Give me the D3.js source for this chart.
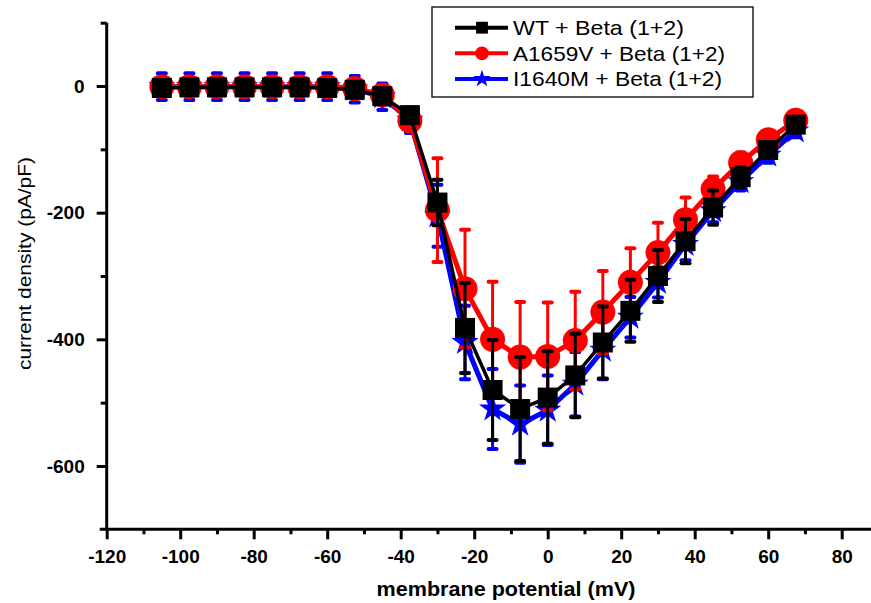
<!DOCTYPE html>
<html>
<head>
<meta charset="utf-8">
<script src="https://cdn.jsdelivr.net/npm/d3@7"></script>
<style>
  body { margin: 0; background: #fff; }
  svg text { font-family: "Liberation Sans", Arial, sans-serif; }
</style>
</head>
<body>
<div id="chart"></div>
<script>
// membrane potential (mV)
const voltage = [-105, -97.5, -90, -82.5, -75, -67.5, -60, -52.5, -45, -37.5, -30, -22.5,
  -15, -7.5, 0, 7.5, 15, 22.5, 30, 37.5, 45, 52.5, 60, 67.5];

const wtMean = [-3, -2, -2, -2, -2, -2, -3, -6, -16, -46, -184, -382,
  -480, -510, -492, -457, -405, -355, -300, -245, -192, -144, -101, -61];
const wtErr = [4, 4, 4, 4, 4, 4, 4, 4, 5, 8, 36, 71,
  79, 82, 73, 66, 57, 49, 41, 35, 27, 16, 10, 8];

const a1659vMean = [-1, -1, -1, -1, -1, -1, -1, -4, -14, -55, -196, -320,
  -400, -428, -427, -402, -357, -310, -263, -211, -163, -121, -85, -54];
const a1659vErr = [6, 6, 6, 6, 6, 6, 6, 6, 8, 12, 82, 93,
  91, 87, 85, 77, 65, 54, 47, 35, 20, 16, 10, 8];

const i1640mMean = [-1, -1, -1, -1, -1, -1, -1, -5, -17, -54, -205, -405,
  -510, -534, -512, -471, -417, -365, -310, -250, -197, -151, -109, -71];
const i1640mErr = [21, 21, 21, 21, 21, 21, 21, 21, 21, 20, 49, 58,
  63, 61, 55, 51, 46, 32, 24, 25, 18, 14, 12, 10];

const seriesNames = ['WT + Beta (1+2)', 'A1659V + Beta (1+2)', 'I1640M + Beta (1+2)'];

const xTicks = [-120, -100, -80, -60, -40, -20, 0, 20, 40, 60, 80];
const xMinorTicks = [-110, -90, -70, -50, -30, -10, 10, 30, 50, 70];
const yTicks = [0, -200, -400, -600];
const yMinorTicks = [100, -100, -300, -500];

const width = 871, height = 603;

const svg = d3.select('#chart').append('svg')
  .attr('width', width)
  .attr('height', height);

const x = d3.scaleLinear().domain([-120, 80]).range([106.7, 841.7]);
const y = d3.scaleLinear().domain([-700, 100]).range([529.3, 22.7]);

const fmt = d => String(d);

// axes
const xAxisG = svg.append('g').attr('transform', `translate(0,${y(-700)})`);
xAxisG.call(d3.axisBottom(x).tickValues(xTicks).tickSize(10).tickPadding(10).tickFormat(fmt));
xAxisG.append('g').call(d3.axisBottom(x).tickValues(xMinorTicks).tickSize(5).tickFormat(''))
  .select('.domain').remove();
xAxisG.selectAll('.domain').remove();

const yAxisG = svg.append('g').attr('transform', `translate(${x(-120)},0)`);
yAxisG.call(d3.axisLeft(y).tickValues(yTicks).tickSize(10).tickPadding(12).tickFormat(fmt));
yAxisG.append('g').call(d3.axisLeft(y).tickValues(yMinorTicks).tickSize(6).tickFormat(''))
  .select('.domain').remove();
yAxisG.selectAll('.domain').remove();

svg.selectAll('.tick line').attr('stroke', '#000').attr('stroke-width', 3);
svg.selectAll('.tick text')
  .attr('fill', '#000')
  .style('font-size', '19px')
  .style('font-weight', 'bold');

// axis lines
svg.append('line')
  .attr('x1', x(-120) - 7).attr('x2', width)
  .attr('y1', y(-700)).attr('y2', y(-700))
  .attr('stroke', '#000').attr('stroke-width', 3);
svg.append('line')
  .attr('x1', x(-120)).attr('x2', x(-120))
  .attr('y1', y(100)).attr('y2', y(-700) + 1)
  .attr('stroke', '#000').attr('stroke-width', 3);

// axis titles
svg.append('text')
  .attr('x', 506).attr('y', 596)
  .attr('text-anchor', 'middle')
  .attr('textLength', 259)
  .attr('lengthAdjust', 'spacingAndGlyphs')
  .style('font-size', '20px')
  .style('font-weight', 'bold')
  .text('membrane potential (mV)');

svg.append('text')
  .attr('transform', 'translate(31,263.5) rotate(-90)')
  .attr('text-anchor', 'middle')
  .attr('textLength', 213)
  .attr('lengthAdjust', 'spacingAndGlyphs')
  .style('font-size', '19px')
  .text('current density (pA/pF)');

// series
const series = [
  { name: seriesNames[2], mean: i1640mMean, err: i1640mErr, color: '#0000ff', lw: 5,
    symbol: d3.symbolStar, size: 230, legendSize: 95 },
  { name: seriesNames[1], mean: a1659vMean, err: a1659vErr, color: '#ff0000', lw: 5,
    symbol: d3.symbolCircle, size: 490, legendSize: 150 },
  { name: seriesNames[0], mean: wtMean, err: wtErr, color: '#000000', lw: 3.5,
    symbol: d3.symbolSquare, size: 400, legendSize: 140 }
];

const line = d3.line()
  .x(d => x(d.v))
  .y(d => y(d.m));

series.forEach(s => {
  const pts = voltage.map((v, i) => ({ v: v, m: s.mean[i], e: s.err[i] }));
  const g = svg.append('g');

  g.append('path')
    .datum(pts)
    .attr('d', line)
    .attr('fill', 'none')
    .attr('stroke', s.color)
    .attr('stroke-width', s.lw)
    .attr('stroke-linejoin', 'round');

  // error bars
  const eb = g.selectAll('.eb').data(pts).enter().append('g').attr('class', 'eb');
  eb.append('line')
    .attr('x1', d => x(d.v)).attr('x2', d => x(d.v))
    .attr('y1', d => y(d.m + d.e)).attr('y2', d => y(d.m - d.e))
    .attr('stroke', s.color).attr('stroke-width', 3);
  [1, -1].forEach(sign => {
    eb.append('line')
      .attr('x1', d => x(d.v) - 4).attr('x2', d => x(d.v) + 4)
      .attr('y1', d => y(d.m + sign * d.e)).attr('y2', d => y(d.m + sign * d.e))
      .attr('stroke', s.color).attr('stroke-width', 4)
      .attr('stroke-linecap', 'round');
  });

  g.selectAll('.mk').data(pts).enter().append('path')
    .attr('class', 'mk')
    .attr('d', d3.symbol(s.symbol, s.size))
    .attr('transform', d => `translate(${x(d.v)},${y(d.m)})`)
    .attr('fill', s.color);
});

// legend
const legend = svg.append('g');
legend.append('rect')
  .attr('x', 432).attr('y', 7)
  .attr('width', 321).attr('height', 90)
  .attr('fill', '#fff')
  .attr('stroke', '#222').attr('stroke-width', 1.5);

const legendItems = [series[2], series[1], series[0]];
const legendText = [171, 212, 209];
legendItems.forEach((s, i) => {
  const ly = 27.7 + i * 25.6;
  legend.append('line')
    .attr('x1', 455).attr('x2', 508)
    .attr('y1', ly).attr('y2', ly)
    .attr('stroke', s.color).attr('stroke-width', 4);
  legend.append('path')
    .attr('d', d3.symbol(s.symbol, s.legendSize))
    .attr('transform', `translate(482,${ly})`)
    .attr('fill', s.color);
  legend.append('text')
    .attr('x', 513).attr('y', ly + 7.5)
    .attr('textLength', legendText[i])
    .attr('lengthAdjust', 'spacingAndGlyphs')
    .style('font-size', '21px')
    .text(s.name);
});
</script>
</body>
</html>
